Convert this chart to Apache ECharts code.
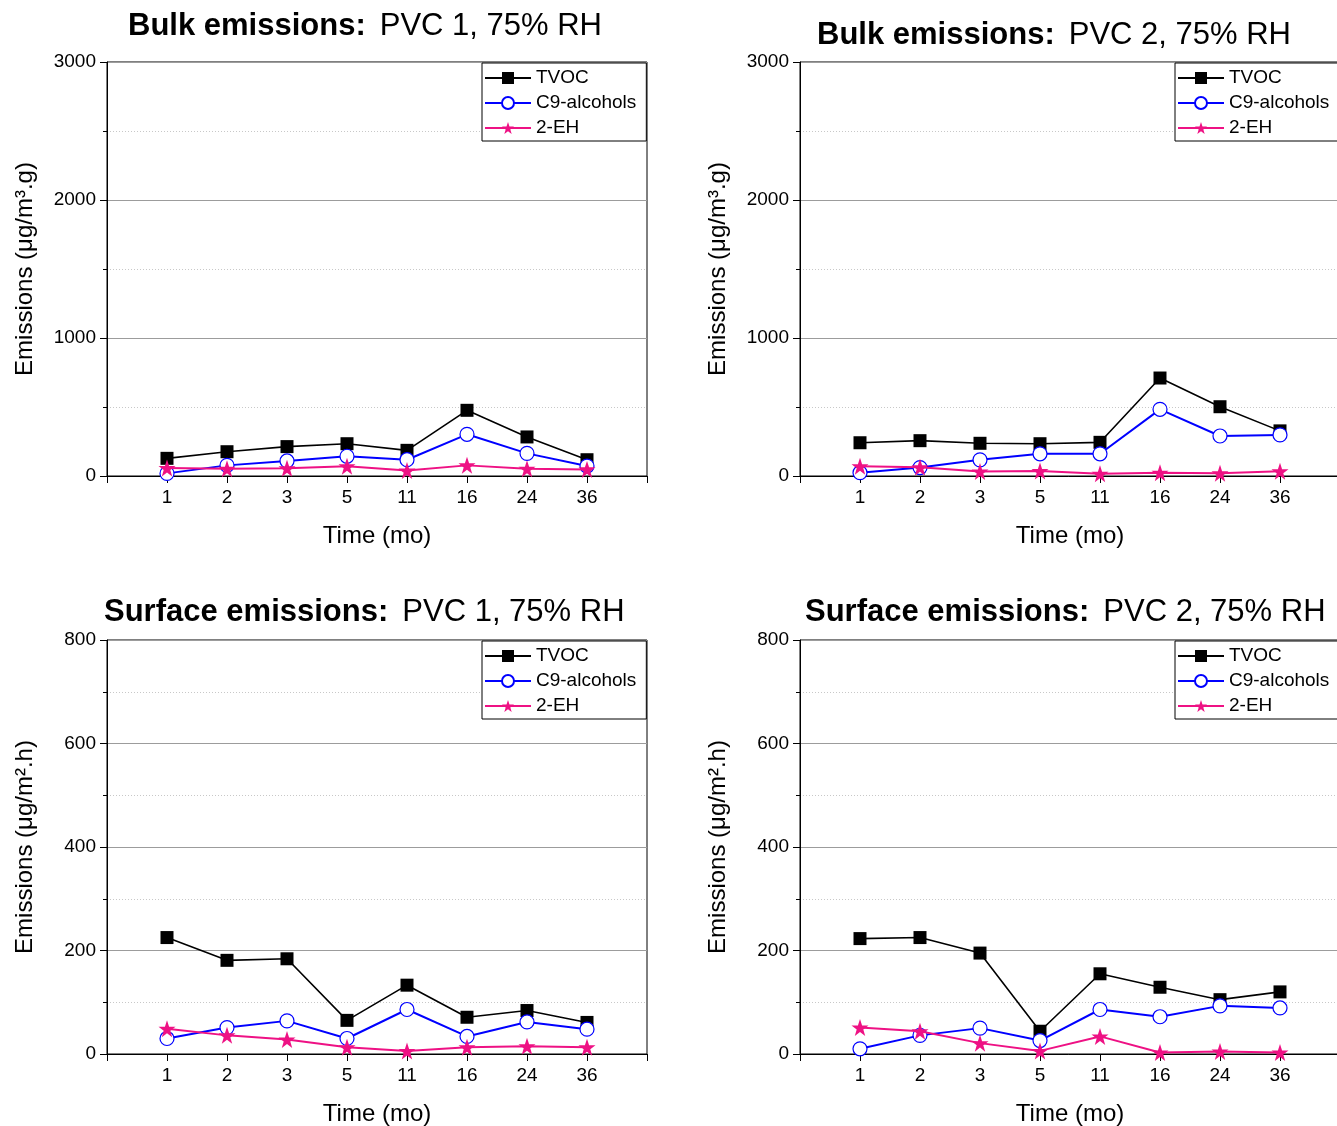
<!DOCTYPE html>
<html>
<head>
<meta charset="utf-8">
<script src="https://cdn.jsdelivr.net/npm/echarts@6/dist/echarts.min.js"></script>
<style>
  html, body { margin: 0; padding: 0; background: #fff; }
  #chart { width: 1337px; height: 1126px; }
</style>
</head>
<body>
<div id="chart"></div>
<script>
const timeLabels = ["1", "2", "3", "5", "11", "16", "24", "36"];
const seriesNames = ["TVOC", "C9-alcohols", "2-EH"];

const bulkPvc1Tvoc = [128, 176, 213, 234, 186, 476, 283, 118];
const bulkPvc1C9 = [19, 77, 109, 143, 118, 302, 164, 72];
const bulkPvc1Eh = [58, 53, 56, 70, 39, 77, 53, 48];

const bulkPvc2Tvoc = [241, 256, 237, 234, 244, 710, 502, 327];
const bulkPvc2C9 = [24, 61, 117, 161, 161, 483, 290, 298];
const bulkPvc2Eh = [71, 63, 32, 37, 17, 24, 20, 34];

const surfPvc1Tvoc = [225, 181, 184, 65, 133, 71, 84, 61];
const surfPvc1C9 = [30, 51, 64, 30, 86, 34, 62, 48];
const surfPvc1Eh = [49, 36, 28, 13, 6, 13, 15, 13];

const surfPvc2Tvoc = [223, 225, 195, 44, 155, 129, 105, 120];
const surfPvc2C9 = [10, 36, 50, 26, 86, 72, 93, 89];
const surfPvc2Eh = [51, 44, 21, 6, 34, 3, 5, 3];

const bulkTicks = { min: 0, max: 3000, interval: 1000 };
const surfTicks = { min: 0, max: 800, interval: 200 };

const FONT = "'Liberation Sans', Arial, sans-serif";
const STAR = "path://M50,0 L61.8,35.1 L98.1,35.1 L68.7,56.8 L79.4,91.9 L50,70.2 L20.6,91.9 L31.3,56.8 L1.9,35.1 L38.2,35.1 Z";
const PINK = "#ee1184";

// blank category at each end so the points sit one step in from the frame
const categories = ["", ...timeLabels, ""];
const pad = (arr) => ["-", ...arr, "-"];

const panels = [
  { bold: "Bulk emissions:", rest: "PVC 1, 75% RH", unit: "Emissions (\u03bcg/m\u00b3.g)", ticks: bulkTicks,
    data: [bulkPvc1Tvoc, bulkPvc1C9, bulkPvc1Eh], left: 107, top: 62, titleLeft: 128, titleTop: 11 },
  { bold: "Bulk emissions:", rest: "PVC 2, 75% RH", unit: "Emissions (\u03bcg/m\u00b3.g)", ticks: bulkTicks,
    data: [bulkPvc2Tvoc, bulkPvc2C9, bulkPvc2Eh], left: 800, top: 62, titleLeft: 817, titleTop: 20 },
  { bold: "Surface emissions:", rest: "PVC 1, 75% RH", unit: "Emissions (\u03bcg/m\u00b2.h)", ticks: surfTicks,
    data: [surfPvc1Tvoc, surfPvc1C9, surfPvc1Eh], left: 107, top: 640, titleLeft: 104, titleTop: 597 },
  { bold: "Surface emissions:", rest: "PVC 2, 75% RH", unit: "Emissions (\u03bcg/m\u00b2.h)", ticks: surfTicks,
    data: [surfPvc2Tvoc, surfPvc2C9, surfPvc2Eh], left: 800, top: 640, titleLeft: 805, titleTop: 597 },
];

const styles = [
  { color: "#000", symbol: "rect", symbolSize: 13, lineWidth: 1.6, fill: "#000" },
  { color: "#0000ff", symbol: "circle", symbolSize: 14, lineWidth: 2, fill: "#fff" },
  { color: PINK, symbol: STAR, symbolSize: 17, lineWidth: 2, fill: PINK },
];

const grids = [], xAxes = [], yAxes = [], titles = [], legends = [], series = [];

panels.forEach((p, i) => {
  grids.push({
    left: p.left, top: p.top, width: 540, height: 414,
    outerBoundsMode: "none", containLabel: false,
    show: true, borderColor: "#000", borderWidth: 1, backgroundColor: "transparent",
  });
  titles.push({
    text: "{b|" + p.bold + "}{r|" + p.rest + "}",
    left: p.titleLeft, top: p.titleTop, padding: 0,
    textStyle: {
      rich: {
        b: { fontFamily: FONT, fontSize: 31, fontWeight: "bold", color: "#000" },
        r: { fontFamily: FONT, fontSize: 31, fontWeight: "normal", color: "#000", padding: [0, 0, 0, 14] },
      },
    },
  });
  xAxes.push({
    gridIndex: i, type: "category", data: categories, boundaryGap: false,
    name: "Time (mo)", nameLocation: "middle", nameGap: 48,
    nameTextStyle: { fontFamily: FONT, fontSize: 24, color: "#000" },
    axisLine: { lineStyle: { color: "#000", width: 1 } },
    axisTick: { show: true, length: 7, interval: 0, lineStyle: { color: "#000" } },
    axisLabel: { interval: 0, margin: 12, fontFamily: FONT, fontSize: 19, color: "#000" },
    splitLine: { show: false },
  });
  yAxes.push({
    gridIndex: i, type: "value", min: p.ticks.min, max: p.ticks.max, interval: p.ticks.interval,
    name: p.unit, nameLocation: "middle", nameGap: 70, nameRotate: 90,
    nameTextStyle: { fontFamily: FONT, fontSize: 24, color: "#000" },
    axisLine: { show: true, lineStyle: { color: "#000", width: 1 } },
    axisTick: { show: true, length: 7, lineStyle: { color: "#000" } },
    minorTick: { show: true, splitNumber: 2, length: 4, lineStyle: { color: "#000" } },
    axisLabel: { margin: 11, fontFamily: FONT, fontSize: 19, color: "#000", formatter: (v) => String(v) },
    splitLine: { show: true, lineStyle: { color: "#9c9c9c", width: 1 } },
    minorSplitLine: { show: true, lineStyle: { color: "#c8c8c8", width: 1, type: [1, 2] } },
  });
  legends.push({
    left: p.left + 375, top: p.top + 1, orient: "vertical",
    backgroundColor: "#fff", borderColor: "#000", borderWidth: 1,
    padding: [5, 10, 3, 2], itemWidth: 46, itemHeight: 15, itemGap: 5,
    textStyle: { fontFamily: FONT, fontSize: 19, lineHeight: 20, color: "#000" },
    data: seriesNames,
  });
  p.data.forEach((values, k) => {
    const s = styles[k];
    series.push({
      name: seriesNames[k], type: "line", xAxisIndex: i, yAxisIndex: i,
      data: pad(values), symbol: s.symbol, symbolSize: s.symbolSize, showAllSymbol: true,
      lineStyle: { color: s.color, width: s.lineWidth },
      itemStyle: { color: s.fill, borderColor: s.color, borderWidth: k === 1 ? 1.2 : 0 },
      emphasis: { disabled: true }, z: 2 + k,
    });
  });
});

const chart = echarts.init(document.getElementById("chart"), null, { renderer: "canvas" });
chart.setOption({
  animation: false,
  backgroundColor: "#fff",
  title: titles,
  legend: legends,
  grid: grids,
  xAxis: xAxes,
  yAxis: yAxes,
  series: series,
});
</script>
</body>
</html>
